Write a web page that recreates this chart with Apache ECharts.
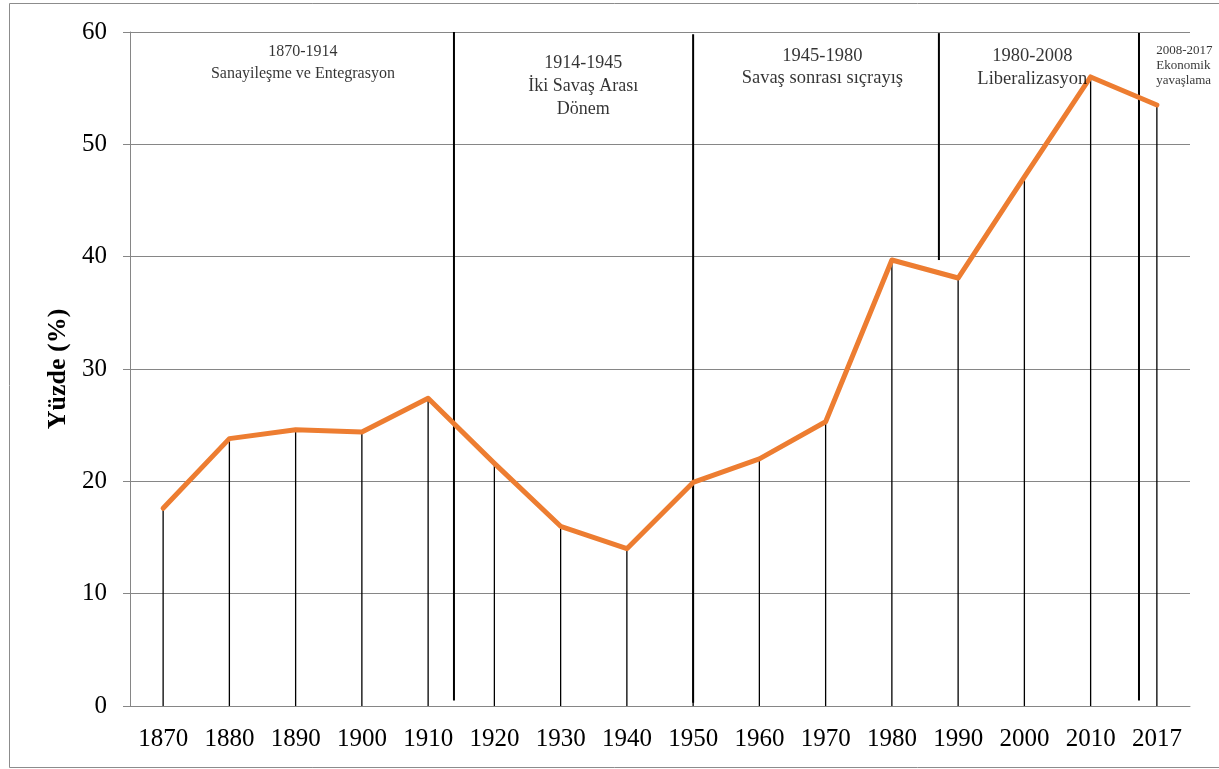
<!DOCTYPE html>
<html>
<head>
<meta charset="utf-8">
<script src="https://cdn.jsdelivr.net/npm/echarts@6/dist/echarts.min.js"></script>
<style>
html,body{margin:0;padding:0;background:#fff;}
#chart{width:1219px;height:769px;}
</style>
</head>
<body>
<div id="chart"></div>
<script>
// ---- data ----
var years = ['1870','1880','1890','1900','1910','1920','1930','1940','1950','1960','1970','1980','1990','2000','2010','2017'];
var values = [17.6, 23.8, 24.6, 24.4, 27.4, 21.6, 16.0, 14.0, 19.9, 22.0, 25.3, 39.7, 38.1, 47.1, 56.0, 53.5];
var yTicks = [0, 10, 20, 30, 40, 50, 60];
// period separators: position in category-band units, bottom value, top value
var sepPos = [4.89, 8.5, 12.21, 15.23];
var sepLow = [0.5, 0.3, 39.7, 0.5];
var sepHigh = [60, 59.8, 59.9, 59.9];
// period annotations
var periodText = [
  '1870-1914\nSanayileşme ve Entegrasyon',
  '1914-1945\nİki Savaş Arası\nDönem',
  '1945-1980\nSavaş sonrası sıçrayış',
  '1980-2008\nLiberalizasyon',
  '2008-2017\nEkonomik\nyavaşlama'
];
var periodX = [2.61, 6.84, 10.45, 13.62, 15.49];
var periodY = [57.3, 55.2, 56.9, 56.8, 57.0];

var serif = '"Liberation Serif", "Times New Roman", serif';
var chart = echarts.init(document.getElementById('chart'));

var sepSeries = sepPos.map(function (p, i) {
  return {
    type: 'line', xAxisIndex: 1, yAxisIndex: 0,
    data: [[p, sepLow[i]], [p, sepHigh[i]]],
    symbol: 'none', silent: true, z: 4,
    lineStyle: { color: '#000', width: 2 }
  };
});

var annStyles = [
  { fontSize: 16, lineHeight: 22, align: 'center' },
  { fontSize: 18, lineHeight: 23, align: 'center' },
  { fontSize: 18.5, lineHeight: 22, align: 'center' },
  { fontSize: 18.5, lineHeight: 23, align: 'center' },
  { fontSize: 13, lineHeight: 15, align: 'left' }
];

var annSeries = {
  type: 'scatter', xAxisIndex: 1, yAxisIndex: 0, silent: true, z: 6,
  symbolSize: 0,
  data: periodText.map(function (t, i) {
    return {
      value: [periodX[i], periodY[i]],
      label: {
        show: true, position: 'inside', formatter: t,
        fontFamily: serif, color: '#000',
        fontSize: annStyles[i].fontSize, lineHeight: annStyles[i].lineHeight,
        align: annStyles[i].align, verticalAlign: 'middle'
      }
    };
  })
};

chart.setOption({
  animation: false,
  backgroundColor: '#fff',
  graphic: [{
    type: 'rect', shape: { x: 9.5, y: 3.5, width: 1230, height: 764 },
    style: { fill: 'none', stroke: '#8c8c8c', lineWidth: 1 }, silent: true, z: -10
  }],
  grid: { left: 130, right: 29, top: 32, bottom: 63 },
  xAxis: [{
    type: 'category', data: years, boundaryGap: true,
    axisLine: { lineStyle: { color: '#868686', width: 1 } },
    axisTick: { show: false },
    axisLabel: { fontFamily: serif, fontSize: 25, color: '#000', margin: 21, interval: 0 },
    splitLine: { show: false }
  }, {
    type: 'value', min: 0, max: 16, show: false
  }],
  yAxis: {
    type: 'value', min: 0, max: 60, interval: 10,
    name: 'Yüzde (%)', nameLocation: 'middle', nameGap: 57, nameRotate: 90,
    nameTextStyle: { fontFamily: serif, fontSize: 26, fontWeight: 'bold', color: '#000' },
    axisLine: { show: true, lineStyle: { color: '#868686', width: 1 } },
    axisTick: { show: true, length: 7, lineStyle: { color: '#868686' } },
    axisLabel: {
      fontFamily: serif, fontSize: 25, color: '#000', margin: 23,
      formatter: function (v) { return yTicks.indexOf(v) >= 0 ? String(v) : ''; }
    },
    splitLine: { lineStyle: { color: '#868686', width: 1 } }
  },
  series: [{
    type: 'bar', data: values, barWidth: 1.3, silent: true, z: 3,
    itemStyle: { color: '#000' }
  }].concat(sepSeries).concat([{
    type: 'line', data: values, symbol: 'none', z: 5, silent: true,
    lineStyle: { color: '#ED7D31', width: 5, cap: 'round', join: 'round' }
  }, annSeries])
});
</script>
</body>
</html>
